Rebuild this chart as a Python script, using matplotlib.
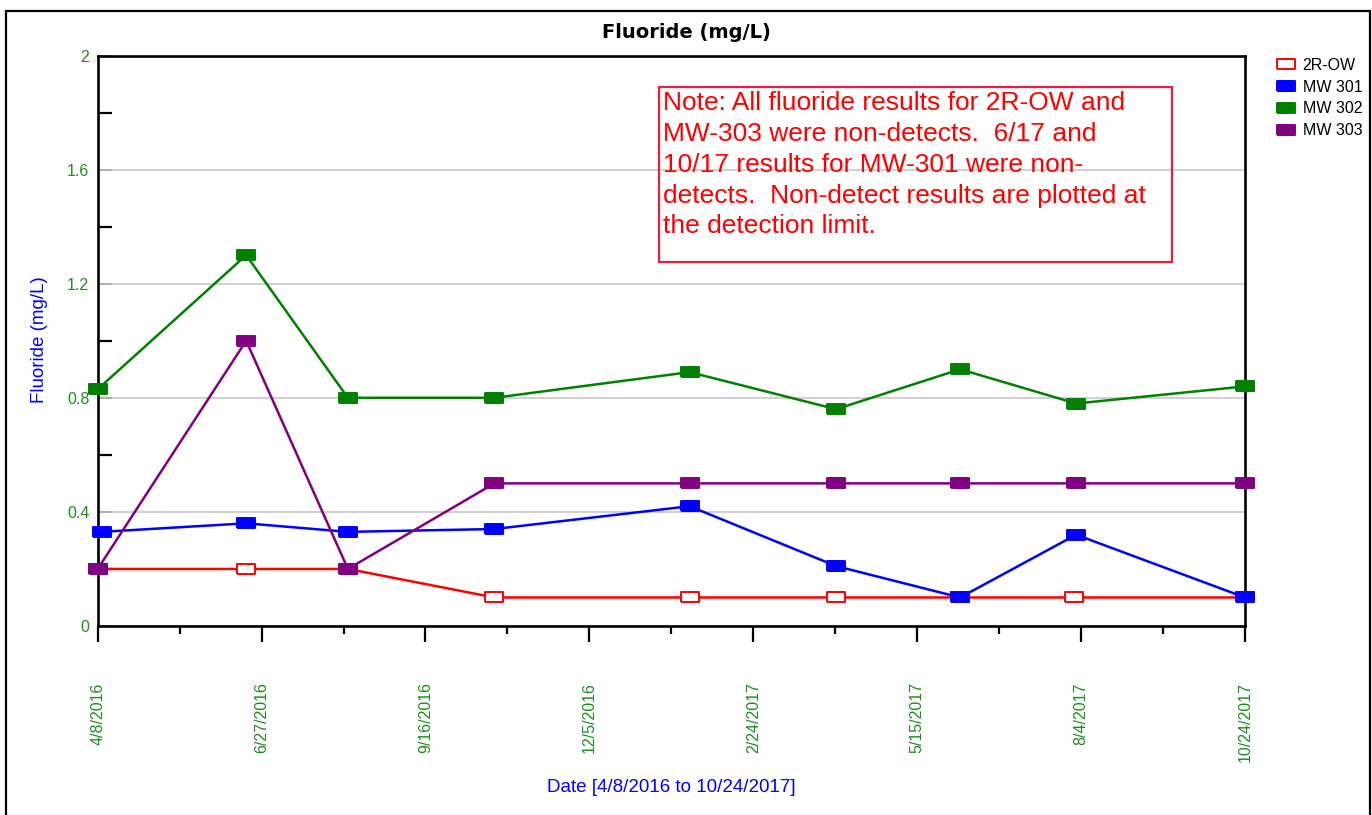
import numpy as np
import matplotlib
matplotlib.use('Agg')
import matplotlib.pyplot as plt
import matplotlib.dates as mdates
from matplotlib.lines import Line2D
from matplotlib.patches import Rectangle
from datetime import datetime

plt.rcParams['font.family'] = ['Liberation Sans', 'DejaVu Sans']

# sampling dates and fluoride results (mg/L) for each well
dates_2row = ['2016-04-08', '2016-06-20', '2016-08-09', '2016-10-20', '2017-01-24',
              '2017-04-06', '2017-06-06', '2017-08-01', '2017-10-24']
dates_mw301 = ['2016-04-10', '2016-06-20', '2016-08-09', '2016-10-20', '2017-01-24',
               '2017-04-06', '2017-06-06', '2017-08-02', '2017-10-24']
dates_mw302 = ['2016-04-08', '2016-06-20', '2016-08-09', '2016-10-20', '2017-01-24',
               '2017-04-06', '2017-06-06', '2017-08-02', '2017-10-24']
dates_mw303 = ['2016-04-08', '2016-06-20', '2016-08-09', '2016-10-20', '2017-01-24',
               '2017-04-06', '2017-06-06', '2017-08-02', '2017-10-24']

fl_2row = [0.2, 0.2, 0.2, 0.1, 0.1, 0.1, 0.1, 0.1, 0.1]
fl_mw301 = [0.33, 0.36, 0.33, 0.34, 0.42, 0.21, 0.1, 0.32, 0.1]
fl_mw302 = [0.83, 1.30, 0.80, 0.80, 0.89, 0.76, 0.90, 0.78, 0.84]
fl_mw303 = [0.2, 1.0, 0.2, 0.5, 0.5, 0.5, 0.5, 0.5, 0.5]

date_start = '2016-04-08'
date_end = '2017-10-24'
x_tick_labels = ['4/8/2016', '6/27/2016', '9/16/2016', '12/5/2016',
                 '2/24/2017', '5/15/2017', '8/4/2017', '10/24/2017']
y_ticks = [0, 0.4, 0.8, 1.2, 1.6, 2]
y_tick_labels = ['0', '0.4', '0.8', '1.2', '1.6', '2']


def to_num(ds):
    return mdates.date2num([datetime.strptime(d, '%Y-%m-%d') for d in ds])


green_txt = '#1f8c1f'
rect = [(-1, -0.6), (1, -0.6), (1, 0.6), (-1, 0.6), (-1, -0.6)]

fig = plt.figure(figsize=(13.72, 8.15), dpi=100)
ax = fig.add_axes([0.0712, 0.2319, 0.8362, 0.7000])

series = [
    ('2R-OW', dates_2row, fl_2row, '#ff0000', 'white'),
    ('MW 301', dates_mw301, fl_mw301, '#0000ff', '#0000ff'),
    ('MW 302', dates_mw302, fl_mw302, '#008000', '#008000'),
    ('MW 303', dates_mw303, fl_mw303, '#800080', '#800080'),
]
handles = []
for i, (name, ds, vals, col, face) in enumerate(series):
    ax.plot(to_num(ds), vals, color=col, lw=1.8, marker=rect, ms=13,
            mfc=face, mec=col, mew=1.4, clip_on=False, zorder=3 + i)
    handles.append(Line2D([], [], linestyle='None', marker=rect, ms=13,
                          mfc=face, mec=col, mew=1.4, label=name))

x0, x1 = to_num([date_start, date_end])
ax.set_xlim(x0, x1)
ax.set_ylim(0, 2)

major_x = np.linspace(x0, x1, len(x_tick_labels))
ax.set_xticks(major_x)
ax.set_xticklabels(x_tick_labels, rotation=90, color=green_txt, fontsize=11.5)
ax.set_xticks((major_x[:-1] + major_x[1:]) / 2, minor=True)
ax.tick_params(axis='x', which='major', direction='out', length=11.5, width=1.6, pad=29)
ax.tick_params(axis='x', which='minor', direction='out', length=6, width=1.6)

ax.set_yticks(y_ticks)
ax.set_yticklabels(y_tick_labels, color=green_txt, fontsize=11.5)
ax.set_yticks(np.arange(0.2, 2.0, 0.4), minor=True)
ax.tick_params(axis='y', which='major', direction='in', length=10, width=1.2,
               color='#a8a8a8', pad=6)
ax.tick_params(axis='y', which='minor', direction='in', length=10, width=1.6, color='black')

ax.yaxis.grid(True, which='major', color='#c8c8c8', lw=1.2, zorder=0)
ax.set_axisbelow(True)
for sp in ax.spines.values():
    sp.set_linewidth(1.9)
    sp.set_color('black')

fig.text(686 / 1372, 1 - 33 / 815, 'Fluoride (mg/L)', family='DejaVu Sans',
         fontweight='bold', fontsize=14, ha='center', va='center')
fig.text(40 / 1372, 1 - 340 / 815, 'Fluoride (mg/L)', color='#0000ff',
         fontsize=13.5, rotation=90, ha='center', va='center')
fig.text(671 / 1372, 1 - 788 / 815, 'Date [4/8/2016 to 10/24/2017]', color='#0000ff',
         fontsize=13.5, ha='center', va='center')

# note box
fig.patches.append(Rectangle((659 / 1372, 1 - 262 / 815), 513 / 1372, 175 / 815,
                             transform=fig.transFigure, fill=False,
                             edgecolor='#e8203a', lw=1.6))
note = ('Note: All fluoride results for 2R-OW and\n'
        'MW-303 were non-detects.  6/17 and\n'
        '10/17 results for MW-301 were non-\n'
        'detects.  Non-detect results are plotted at\n'
        'the detection limit.')
fig.text(663 / 1372, 1 - 91 / 815, note, color='#ff0000', fontsize=19,
         ha='left', va='top', linespacing=1.36)

# outer frame
fig.patches.append(Rectangle((5.5 / 1372, -0.02), 1364.5 / 1372, 1.02 - 11 / 815,
                             transform=fig.transFigure, fill=False,
                             edgecolor='black', lw=1.6))

fig.legend(handles=handles, loc='upper left', bbox_to_anchor=(1277 / 1372, 1 - 58 / 815),
           frameon=False, fontsize=11.5, handlelength=1.1, handletextpad=0.5,
           labelspacing=0.42, borderpad=0, borderaxespad=0)

fig.savefig('out.png', dpi=100)
